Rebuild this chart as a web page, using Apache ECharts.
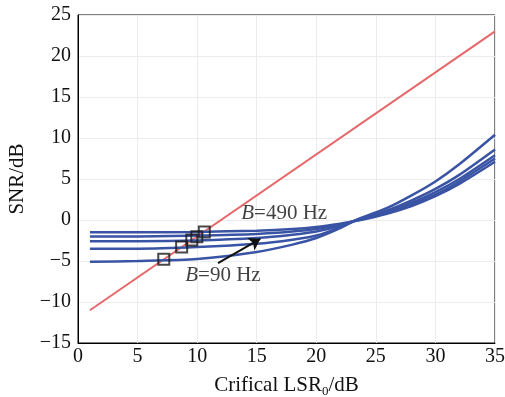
<!DOCTYPE html>
<html>
<head>
<meta charset="utf-8">
<script src="https://cdn.jsdelivr.net/npm/echarts@6/dist/echarts.min.js"></script>
<style>
  html, body { margin: 0; padding: 0; background: #fff; }
  #chart { width: 505px; height: 397px; }
</style>
</head>
<body>
<div id="chart"></div>
<script>
// x positions (Critical LSR0, dB) where the curves are sampled
const xs = [1, 5, 10, 15, 18, 20, 22, 23.4, 26, 28, 30, 32, 35]
// SNR curves, B=490 Hz (top at left) down to B=90 Hz
const snr490 = [-1.5, -1.5, -1.45, -1.3, -1.1, -0.85, -0.45, -0.1, 0.8, 1.7, 2.9, 4.4, 7.1]
const snr390 = [-2.0, -2.0, -1.9, -1.7, -1.4, -1.1, -0.55, -0.05, 0.9, 1.9, 3.1, 4.7, 7.5]
const snr290 = [-2.6, -2.6, -2.5, -2.2, -1.8, -1.4, -0.7, 0.0, 1.0, 2.1, 3.4, 5.0, 7.9]
const snr190 = [-3.5, -3.5, -3.3, -2.9, -2.4, -1.9, -0.9, 0.0, 1.2, 2.4, 3.8, 5.5, 8.6]
const snr90 = [-5.1, -5.0, -4.75, -3.9, -3.0, -2.2, -1.0, 0.05, 1.5, 3.0, 4.7, 6.8, 10.4]
// red reference line
const lineX = [1, 35]
const lineY = [-11, 23]
// intersection markers
const markX = [7.2, 8.7, 9.55, 9.97, 10.6]
const markY = [-4.8, -3.3, -2.45, -2.03, -1.45]

const blue = '#3a54a5'
const chart = echarts.init(document.getElementById('chart'))

const zip = (a, b) => a.map((v, i) => [v, b[i]])
const curves = [snr490, snr390, snr290, snr190, snr90].map((ys, i) => ({
  name: 'c' + i,
  type: 'line',
  smooth: 0.25,
  symbol: 'none',
  data: zip(xs, ys),
  lineStyle: { color: blue, width: 2.5 },
  z: 3
}))

const font = 'Liberation Serif'
const minus = v => String(v).replace('-', '\u2212')

chart.setOption({
  animation: false,
  grid: {
    left: 78, right: 10, top: 15, bottom: 54, outerBoundsMode: 'none',
    show: true, borderColor: '#000', borderWidth: 1
  },
  xAxis: {
    type: 'value', min: 0, max: 35, interval: 5,
    name: '{n|Crifical LSR}{s|0}{n|/dB}',
    nameLocation: 'middle', nameGap: 30,
    nameTextStyle: {
      rich: {
        n: { fontFamily: font, fontSize: 21, color: '#111' },
        s: { fontFamily: font, fontSize: 13, color: '#111', padding: [12, 0, 0, 0] }
      }
    },
    axisLine: { onZero: false, lineStyle: { color: '#000', width: 1 } },
    axisTick: { show: false },
    axisLabel: { fontFamily: font, fontSize: 20, color: '#111', margin: 4 },
    splitLine: { lineStyle: { color: '#ececec' } }
  },
  yAxis: {
    type: 'value', min: -15, max: 25, interval: 5,
    name: 'SNR/dB', nameLocation: 'middle', nameGap: 50,
    nameTextStyle: { fontFamily: font, fontSize: 21, color: '#111' },
    axisLine: { show: true, onZero: false, lineStyle: { color: '#000', width: 1 } },
    axisTick: { show: false },
    axisLabel: { fontFamily: font, fontSize: 20, color: '#111', margin: 7, formatter: minus },
    splitLine: { lineStyle: { color: '#ececec' } }
  },
  series: [
    ...curves,
    {
      name: 'ref', type: 'line', symbol: 'none',
      data: zip(lineX, lineY),
      lineStyle: { color: '#e5676a', width: 2 },
      z: 2,
      markLine: {
        silent: true, symbol: ['none', 'arrow'], symbolSize: 11,
        label: { show: false },
        lineStyle: { color: '#111', width: 2, type: 'solid' },
        data: [[{ coord: [11.75, -5.25] }, { coord: [15.3, -2.3] }]]
      }
    },
    {
      name: 'marks', type: 'scatter', symbol: 'rect', symbolSize: 11,
      data: zip(markX, markY),
      itemStyle: { color: 'rgba(0,0,0,0)', borderColor: '#1a1a1a', borderWidth: 2 },
      z: 5
    },
    {
      name: 'labels', type: 'scatter', symbolSize: 0,
      data: [
        { value: [13.7, 0.85], label: { formatter: '{i|B}{t|=490 Hz}' } },
        { value: [9.0, -6.8], label: { formatter: '{i|B}{t|=90 Hz}' } }
      ],
      label: {
        show: true, position: 'right', distance: 0,
        rich: {
          i: { fontFamily: font, fontStyle: 'italic', fontSize: 21, color: '#111' },
          t: { fontFamily: font, fontSize: 21, color: '#111' }
        }
      },
      z: 7
    }
  ]
})
</script>
</body>
</html>
